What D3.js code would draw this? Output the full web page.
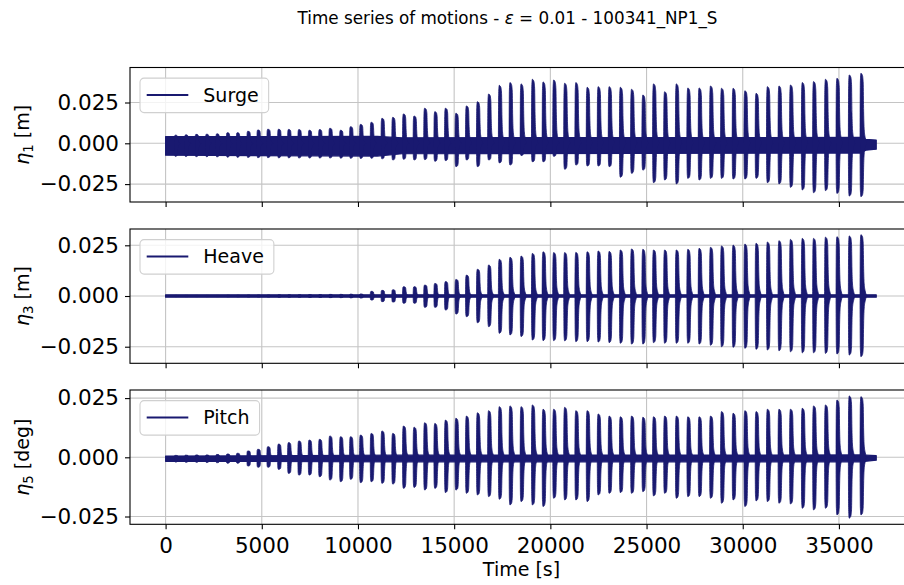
<!DOCTYPE html>
<html>
<head>
<meta charset="utf-8">
<script src="https://cdn.jsdelivr.net/npm/d3@7"></script>
<style>
  body { margin: 0; background: #fff; }
  svg { display: block; }
  text { font-family: "DejaVu Sans", sans-serif; fill: #000; }
</style>
</head>
<body>
<svg id="chart" width="904" height="585"></svg>
<script>
// ---- Data: wave-group arrival times [s] and the motion extremes of each group ----
const burstTimes = [468, 1008, 1548, 2089, 2629, 3170, 3689, 4240, 4760, 5279,
  5835, 6355, 6890, 7430, 7965, 8501, 9057, 9576, 10096, 10652,
  11213, 11774, 12330, 12881, 13432, 13962, 14512, 15058, 15604, 16175,
  16757, 17313, 17869, 18446, 19033, 19589, 20140, 20711, 21293, 21880,
  22452, 23023, 23605, 24187, 24775, 25330, 25907, 26515, 27113, 27700,
  28292, 28864, 29466, 30079, 30661, 31249, 31851, 32449, 33062, 33649,
  34268, 34865, 35505, 36112];

const surgeMax = [0.0050, 0.0052, 0.0055, 0.0056, 0.0058, 0.0065, 0.0065, 0.0074, 0.0082, 0.0086,
  0.0086, 0.0085, 0.0084, 0.0080, 0.0084, 0.0092, 0.0080, 0.0102, 0.0116, 0.0129,
  0.0153, 0.0159, 0.0180, 0.0167, 0.0215, 0.0194, 0.0215, 0.0184, 0.0229, 0.0255,
  0.0302, 0.0355, 0.0372, 0.0364, 0.0392, 0.0376, 0.0388, 0.0368, 0.0372, 0.0343,
  0.0347, 0.0347, 0.0343, 0.0331, 0.0296, 0.0364, 0.0316, 0.0364, 0.0339, 0.0339,
  0.0351, 0.0337, 0.0337, 0.0322, 0.0306, 0.0347, 0.0351, 0.0357, 0.0372, 0.0378,
  0.0392, 0.0398, 0.0419, 0.0429];
const surgeMin = [-0.0080, -0.0081, -0.0082, -0.0082, -0.0083, -0.0085, -0.0086, -0.0087, -0.0088, -0.0088,
  -0.0089, -0.0089, -0.0090, -0.0090, -0.0090, -0.0090, -0.0091, -0.0092, -0.0093, -0.0092,
  -0.0095, -0.0102, -0.0098, -0.0102, -0.0100, -0.0110, -0.0106, -0.0143, -0.0102, -0.0143,
  -0.0102, -0.0120, -0.0133, -0.0075, -0.0113, -0.0113, -0.0080, -0.0159, -0.0133, -0.0139,
  -0.0139, -0.0143, -0.0208, -0.0184, -0.0164, -0.0241, -0.0225, -0.0249, -0.0215, -0.0225,
  -0.0215, -0.0215, -0.0219, -0.0219, -0.0215, -0.0241, -0.0249, -0.0270, -0.0286, -0.0303,
  -0.0290, -0.0307, -0.0323, -0.0327];

const heaveMax = [0.0003, 0.0003, 0.0003, 0.0003, 0.0003, 0.0004, 0.0004, 0.0005, 0.0005, 0.0005,
  0.0006, 0.0006, 0.0006, 0.0007, 0.0007, 0.0008, 0.0008, 0.0009, 0.0010, 0.0023,
  0.0028, 0.0031, 0.0046, 0.0046, 0.0054, 0.0062, 0.0071, 0.0082, 0.0103, 0.0132,
  0.0153, 0.0181, 0.0191, 0.0197, 0.0210, 0.0218, 0.0214, 0.0214, 0.0215, 0.0218,
  0.0222, 0.0220, 0.0227, 0.0232, 0.0230, 0.0227, 0.0227, 0.0227, 0.0230, 0.0235,
  0.0240, 0.0247, 0.0251, 0.0256, 0.0260, 0.0266, 0.0273, 0.0279, 0.0284, 0.0284,
  0.0290, 0.0292, 0.0296, 0.0302];
const heaveMin = [-0.0003, -0.0003, -0.0003, -0.0003, -0.0003, -0.0004, -0.0004, -0.0005, -0.0005, -0.0005,
  -0.0006, -0.0006, -0.0006, -0.0007, -0.0007, -0.0008, -0.0008, -0.0009, -0.0010, -0.0020,
  -0.0028, -0.0030, -0.0036, -0.0036, -0.0056, -0.0056, -0.0069, -0.0089, -0.0102, -0.0132,
  -0.0151, -0.0184, -0.0192, -0.0200, -0.0217, -0.0220, -0.0220, -0.0221, -0.0225, -0.0225,
  -0.0227, -0.0230, -0.0233, -0.0237, -0.0237, -0.0230, -0.0233, -0.0233, -0.0233, -0.0237,
  -0.0243, -0.0250, -0.0253, -0.0258, -0.0263, -0.0266, -0.0270, -0.0275, -0.0280, -0.0280,
  -0.0283, -0.0286, -0.0291, -0.0299];

const pitchMax = [0.0008, 0.0009, 0.0010, 0.0010, 0.0012, 0.0014, 0.0017, 0.0027, 0.0034, 0.0045,
  0.0056, 0.0062, 0.0069, 0.0073, 0.0076, 0.0090, 0.0087, 0.0087, 0.0094, 0.0101,
  0.0111, 0.0101, 0.0132, 0.0127, 0.0146, 0.0143, 0.0157, 0.0165, 0.0174, 0.0188,
  0.0197, 0.0214, 0.0217, 0.0214, 0.0221, 0.0203, 0.0203, 0.0211, 0.0197, 0.0197,
  0.0183, 0.0174, 0.0171, 0.0174, 0.0169, 0.0171, 0.0174, 0.0174, 0.0171, 0.0171,
  0.0174, 0.0193, 0.0186, 0.0197, 0.0193, 0.0203, 0.0203, 0.0203, 0.0207, 0.0217,
  0.0221, 0.0242, 0.0259, 0.0256];
const pitchMin = [-0.0020, -0.0021, -0.0021, -0.0022, -0.0023, -0.0025, -0.0025, -0.0037, -0.0042, -0.0042,
  -0.0051, -0.0068, -0.0075, -0.0075, -0.0082, -0.0096, -0.0103, -0.0093, -0.0107, -0.0103,
  -0.0110, -0.0113, -0.0131, -0.0127, -0.0138, -0.0131, -0.0149, -0.0138, -0.0152, -0.0159,
  -0.0166, -0.0177, -0.0201, -0.0187, -0.0201, -0.0208, -0.0173, -0.0180, -0.0180, -0.0187,
  -0.0159, -0.0152, -0.0149, -0.0152, -0.0145, -0.0163, -0.0152, -0.0173, -0.0166, -0.0166,
  -0.0173, -0.0194, -0.0180, -0.0208, -0.0184, -0.0187, -0.0194, -0.0197, -0.0215, -0.0222,
  -0.0215, -0.0243, -0.0257, -0.0243];

// Continuous low-level oscillation band between the groups
const surgeBandT  = [0, 11000, 12300, 36100, 36400, 36940];
const surgeBandHi = [0.0041, 0.0042, 0.0034, 0.0036, 0.0024, 0.0020];
const surgeBandLo = [-0.0073, -0.0078, -0.0064, -0.0060, -0.0042, -0.0036];
const heaveBandT  = [0, 36940];
const heaveBandHi = [0.0006, 0.0006];
const heaveBandLo = [-0.0006, -0.0006];
const pitchBandT  = [0, 12000, 36100, 36940];
const pitchBandHi = [0.0005, 0.0009, 0.0010, 0.0007];
const pitchBandLo = [-0.0017, -0.0019, -0.0019, -0.0012];

const xTicks = [0, 5000, 10000, 15000, 20000, 25000, 30000, 35000];
const yTicks = [-0.025, 0, 0.025];

// ---- Layout and styling ----
const plotLeft = 130, plotRight = 913;
const lineColor = "#191970";
const gridColor = "#c4c4c4";
const tickFont = 21.5, labelFont = 19, legendFont = 19, titleFont = 16.8;
// envelope of one wave group: [seconds after onset, fraction of the group peak]
const spikeProfile = [[-15, 0], [0, 0.86], [30, 1.0], [110, 0.97], [150, 0.86],
  [172, 0.45], [200, 0.2], [255, 0.08], [340, 0]];

const svg = d3.select("#chart");
const x = d3.scaleLinear().domain([-1850, 38850]).range([plotLeft, plotRight]);

const panels = [
  { name: "Surge", sub: "1", unit: "[m]", max: surgeMax, min: surgeMin,
    bT: surgeBandT, bHi: surgeBandHi, bLo: surgeBandLo,
    domain: [-0.03597, 0.04645], top: 67.5, bottom: 202 },
  { name: "Heave", sub: "3", unit: "[m]", max: heaveMax, min: heaveMin,
    bT: heaveBandT, bHi: heaveBandHi, bLo: heaveBandLo,
    domain: [-0.03318, 0.03304], top: 229, bottom: 363.3 },
  { name: "Pitch", sub: "5", unit: "[deg]", max: pitchMax, min: pitchMin,
    bT: pitchBandT, bHi: pitchBandHi, bLo: pitchBandLo,
    domain: [-0.02829, 0.02842], top: 390, bottom: 524.3 }
];

const defs = svg.append("defs");

panels.forEach((p, i) => {
  const y = d3.scaleLinear().domain(p.domain).range([p.bottom, p.top]);
  const g = svg.append("g");
  const clipId = "clip" + i;
  defs.append("clipPath").attr("id", clipId)
    .append("rect").attr("x", plotLeft).attr("y", p.top)
    .attr("width", plotRight - plotLeft).attr("height", p.bottom - p.top);

  // grid
  const grid = g.append("g").attr("stroke", gridColor).attr("stroke-width", 1.1);
  grid.selectAll("line.gx").data(xTicks).join("line")
    .attr("x1", d => x(d)).attr("x2", d => x(d))
    .attr("y1", p.top).attr("y2", p.bottom);
  grid.selectAll("line.gy").data(yTicks).join("line")
    .attr("x1", plotLeft).attr("x2", plotRight)
    .attr("y1", d => y(d)).attr("y2", d => y(d));

  const data = g.append("g").attr("clip-path", `url(#${clipId})`);

  // background band
  const band = p.bT.map((t, k) => ({ t, hi: p.bHi[k], lo: p.bLo[k] }));
  data.append("path").datum(band)
    .attr("fill", lineColor).attr("stroke", lineColor).attr("stroke-width", 1.2)
    .attr("stroke-linejoin", "round")
    .attr("d", d3.area().x(d => x(d.t)).y0(d => y(d.lo)).y1(d => y(d.hi)));

  // wave-group spikes
  const spikeArea = d3.area()
    .x(d => x(d.t)).y0(d => y(d.lo)).y1(d => y(d.hi))
    .curve(d3.curveMonotoneX);
  const groups = burstTimes.map((t, k) =>
    spikeProfile.map(([dt, f]) => ({ t: t + dt, hi: p.max[k] * f, lo: p.min[k] * f })));
  data.selectAll("path.spike").data(groups).join("path")
    .attr("class", "spike")
    .attr("fill", lineColor).attr("stroke", lineColor).attr("stroke-width", 0.8)
    .attr("stroke-linejoin", "round")
    .attr("d", spikeArea);

  // axes
  const ya = g.append("g").attr("transform", `translate(${plotLeft},0)`)
    .call(d3.axisLeft(y).tickValues(yTicks).tickFormat(d3.format(".3f"))
      .tickSize(5).tickPadding(6));
  ya.select(".domain").remove();
  ya.selectAll("text").style("font-size", tickFont + "px").attr("font-family", "DejaVu Sans");
  ya.selectAll("line").attr("stroke", "#000").attr("stroke-width", 1.1);

  const xa = g.append("g").attr("transform", `translate(0,${p.bottom})`)
    .call(d3.axisBottom(x).tickValues(xTicks).tickSize(5).tickPadding(8)
      .tickFormat(i === 2 ? d3.format("d") : () => ""));
  xa.select(".domain").remove();
  xa.selectAll("text").style("font-size", tickFont + "px").attr("font-family", "DejaVu Sans");
  xa.selectAll("line").attr("stroke", "#000").attr("stroke-width", 1.1);

  // frame
  g.append("rect").attr("x", plotLeft).attr("y", p.top)
    .attr("width", plotRight - plotLeft).attr("height", p.bottom - p.top)
    .attr("fill", "none").attr("stroke", "#000").attr("stroke-width", 1.1);

  // y label
  const cy = (p.top + p.bottom) / 2;
  const yl = g.append("text")
    .attr("transform", `translate(28.5,${cy}) rotate(-90)`)
    .attr("text-anchor", "middle")
    .style("font-size", labelFont + "px");
  yl.append("tspan").attr("font-style", "italic").text("η");
  yl.append("tspan").attr("dy", 4).style("font-size", (labelFont * 0.7) + "px").text(p.sub);
  yl.append("tspan").attr("dy", -4).text(" " + p.unit);

  // legend
  const lg = g.append("g").attr("transform", `translate(140,${p.top + 10.6})`);
  const box = lg.append("rect").attr("rx", 4).attr("ry", 4)
    .attr("height", 34.5).attr("fill", "#fff").attr("fill-opacity", 0.8)
    .attr("stroke", "#d0d0d0").attr("stroke-width", 1.1);
  lg.append("line").attr("x1", 6.7).attr("x2", 48.3).attr("y1", 17).attr("y2", 17)
    .attr("stroke", lineColor).attr("stroke-width", 2);
  const lt = lg.append("text").attr("x", 63.3).attr("y", 17).attr("dy", "0.36em")
    .style("font-size", legendFont + "px").text(p.name);
  box.attr("width", 63.3 + lt.node().getComputedTextLength() + 10);
});

// x label
svg.append("text").attr("x", (plotLeft + plotRight) / 2).attr("y", 576)
  .attr("text-anchor", "middle").style("font-size", labelFont + "px").text("Time [s]");

// title
const title = svg.append("text").attr("x", 507.5).attr("y", 24)
  .attr("text-anchor", "middle").style("font-size", titleFont + "px");
title.append("tspan").text("Time series of motions - ");
title.append("tspan").attr("font-style", "italic").text("ε");
title.append("tspan").text(" = 0.01 - 100341_NP1_S");
</script>
</body>
</html>
